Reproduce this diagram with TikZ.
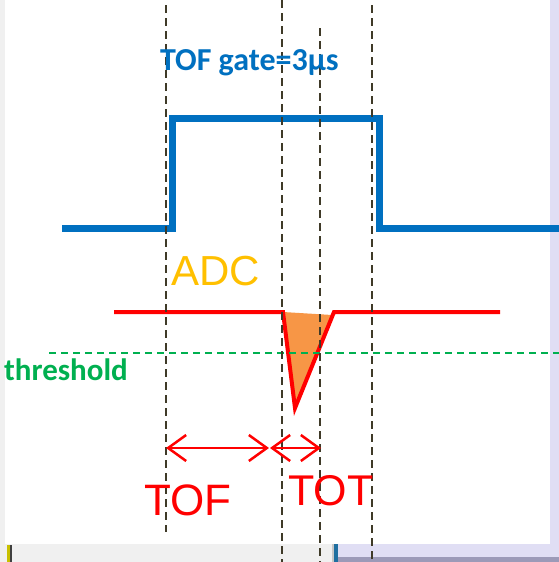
\documentclass[tikz,border=0pt]{standalone}
\usepackage{fontspec}
\setmainfont{Liberation Sans}
\newfontfamily\calfont{Carlito}
\usetikzlibrary{arrows.meta}
\definecolor{gateblue}{HTML}{0070C0}
\definecolor{adcred}{HTML}{FF0000}
\definecolor{fillor}{HTML}{F79646}
\definecolor{thrgreen}{HTML}{00B050}
\definecolor{adcyellow}{HTML}{FFC000}
\definecolor{dashdark}{HTML}{3F3A28}
\definecolor{panelgrey}{HTML}{F0F0F0}
\definecolor{lavender}{HTML}{E0DEF4}
\definecolor{teal}{HTML}{1F6FA0}
\definecolor{darklav}{HTML}{9C9AB8}
\definecolor{marker}{HTML}{C8C000}
\tikzset{
  guide/.style={draw=dashdark, line width=2.4pt, dash pattern=on 8pt off 5pt},
  gatesig/.style={draw=gateblue, line width=7pt, miter limit=10},
  adcsig/.style={draw=adcred, line width=4pt, line join=miter},
  thrline/.style={draw=thrgreen, line width=2pt, dash pattern=on 7pt off 5pt},
  span/.style={draw=adcred, line width=2.5pt, {Straight Barb[length=18pt,width=26pt]}-{Straight Barb[length=18pt,width=26pt]}},
  lbl/.style={inner sep=0pt, anchor=base west},
}
\begin{document}
\begin{tikzpicture}[x=1pt,y=-1pt]
\useasboundingbox (0,0) rectangle (559,562);
% screenshot surroundings
\fill[white] (0,0) rectangle (559,562);
\fill[panelgrey] (0,0) rectangle (5,544);
\fill[lavender] (550,0) rectangle (559,544);
\fill[panelgrey] (0,544) rectangle (332,562);
\fill[black!22] (332,544) rectangle (334,562);
\fill[teal] (334,544) rectangle (338,562);
\fill[lavender] (338,544) rectangle (559,562);
\fill[darklav] (338,557) rectangle (559,562);
\fill[marker] (7,545) rectangle (10,562);
\fill[black!75] (10,545) rectangle (12,562);

% coordinates
\coordinate (g0) at (62,228);
\coordinate (g1) at (172,228);
\coordinate (g2) at (172,118);
\coordinate (g3) at (379,118);
\coordinate (g4) at (379,228);
\coordinate (g5) at (559,228);

\coordinate (a0) at (114,312);
\coordinate (a1) at (283,312);
\coordinate (a2) at (295,408);
\coordinate (a3) at (334,312);
\coordinate (a4) at (500,312);

% TOF gate signal
\draw[gatesig] (g0) -- (g1) -- (g2) -- (g3) -- (g4) -- (g5);

% ADC pulse
\fill[fillor] (283,312) -- (332,315) -- (295,408) -- cycle;
\draw[adcsig] (a0) -- (a1) -- (a2) -- (a3) -- (a4);

% threshold
\coordinate (t0) at (49,353);
\coordinate (t1) at (559,353);
\draw[thrline] (t0) -- (t1);

% guide lines
\coordinate (v1t) at (166,5);   \coordinate (v1b) at (166,532);
\coordinate (v2t) at (282,0);   \coordinate (v2b) at (282,562);
\coordinate (v3t) at (320,28);  \coordinate (v3b) at (320,562);
\coordinate (v4t) at (372,5);   \coordinate (v4b) at (372,562);
\draw[guide] (v1t) -- (v1b);
\draw[guide] (v2t) -- (v2b);
\draw[guide] (v3t) -- (v3b);
\draw[guide] (v4t) -- (v4b);

% spans
\coordinate (s1a) at (166,448);
\coordinate (s1b) at (269,448);
\coordinate (s2a) at (270,448);
\coordinate (s2b) at (321,448);
\draw[span] (s1a) -- (s1b);
\draw[span] (s2a) -- (s2b);

% labels
\node[lbl, text=gateblue] (gate) at (160,70) {\calfont\bfseries\fontsize{32}{32}\selectfont TOF gate=3μs};
\node[lbl, text=thrgreen] (thr) at (4,380) {\calfont\bfseries\fontsize{31}{31}\selectfont threshold};
\node[lbl, text=adcyellow] (adc) at (171,285) {\fontsize{42}{42}\selectfont ADC};
\node[lbl, text=adcred] (tof) at (144,515) {\fontsize{44}{44}\selectfont TOF};
\node[lbl, text=adcred] (tot) at (288,505) {\fontsize{43}{43}\selectfont TOT};
\end{tikzpicture}
\end{document}
